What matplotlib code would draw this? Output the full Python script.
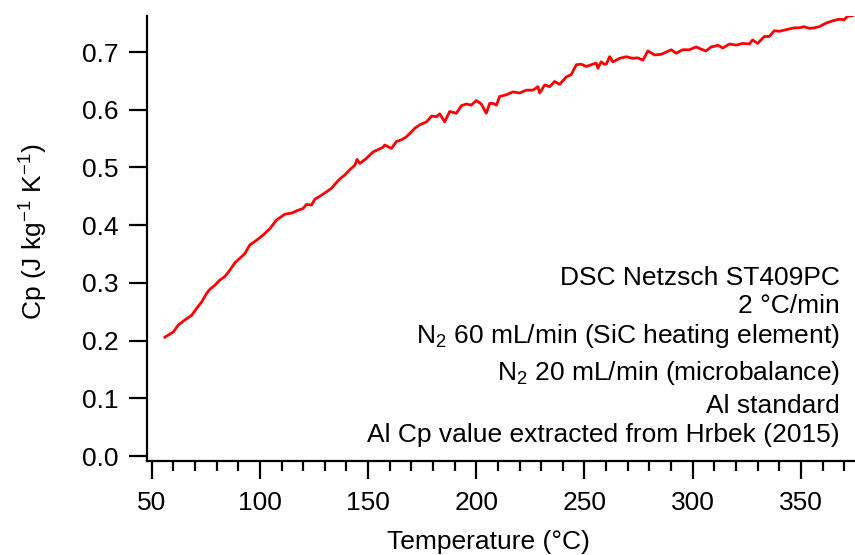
import matplotlib
matplotlib.use("Agg")
import matplotlib.pyplot as plt
from matplotlib.ticker import MultipleLocator

plt.rcParams['font.family'] = ['Liberation Sans', 'DejaVu Sans']
plt.rcParams['mathtext.default'] = 'regular'

# Cp curve
temperature = [56.1, 60.0, 62.3, 65.4, 68.5, 70.8, 73.1, 75.4, 76.9, 79.2,
               81.5, 83.8, 86.1, 88.5, 90.8, 93.1, 95.4, 98.5, 101.5, 104.6,
               107.7, 111.5, 114.6, 117.7, 120.0, 121.5, 123.9, 125.4, 128.5, 130.8,
               133.1, 135.4, 136.9, 139.2, 141.5, 143.9, 144.9, 146.2, 149.3, 152.3,
               154.6, 156.9, 157.7, 160.8, 163.1, 165.4, 167.7, 170.0, 171.6, 173.9,
               177.0, 179.3, 181.6, 183.1, 185.4, 187.7, 190.8, 193.1, 195.4, 197.7,
               200.0, 202.3, 204.6, 206.2, 207.7, 209.3, 210.8, 213.9, 216.9, 220.0,
               223.1, 226.2, 228.5, 229.3, 231.6, 233.9, 236.2, 238.5, 241.6, 243.9,
               246.2, 248.5, 250.8, 253.1, 255.4, 256.2, 257.7, 259.2, 260.1, 261.6,
               263.1, 266.2, 269.3, 272.3, 274.6, 277.0, 279.3, 282.4, 285.4, 287.8,
               290.1, 292.4, 295.4, 298.5, 301.6, 303.9, 306.2, 308.5, 310.1, 311.6,
               313.9, 317.0, 320.1, 323.1, 326.2, 327.7, 330.0, 333.1, 335.4, 337.7,
               340.0, 342.3, 344.6, 346.9, 349.2, 351.5, 353.9, 356.2, 358.5, 361.5,
               364.6, 367.7, 370.0, 371.5, 373.8]
cp = [0.206, 0.215, 0.227, 0.236, 0.244, 0.256, 0.267, 0.282, 0.289, 0.296,
      0.305, 0.311, 0.322, 0.335, 0.343, 0.351, 0.366, 0.374, 0.383, 0.394,
      0.409, 0.419, 0.421, 0.426, 0.429, 0.436, 0.435, 0.445, 0.452, 0.458,
      0.464, 0.474, 0.480, 0.487, 0.496, 0.504, 0.514, 0.507, 0.516, 0.527,
      0.531, 0.535, 0.539, 0.533, 0.545, 0.548, 0.553, 0.562, 0.568, 0.574,
      0.579, 0.589, 0.588, 0.593, 0.579, 0.597, 0.594, 0.607, 0.610, 0.608,
      0.616, 0.610, 0.594, 0.611, 0.611, 0.608, 0.623, 0.626, 0.631, 0.629,
      0.634, 0.634, 0.640, 0.629, 0.643, 0.640, 0.649, 0.644, 0.657, 0.661,
      0.678, 0.679, 0.675, 0.678, 0.681, 0.672, 0.683, 0.679, 0.679, 0.692,
      0.683, 0.689, 0.692, 0.689, 0.690, 0.686, 0.702, 0.695, 0.696, 0.700,
      0.704, 0.698, 0.704, 0.704, 0.709, 0.705, 0.702, 0.709, 0.710, 0.712,
      0.707, 0.714, 0.712, 0.715, 0.714, 0.721, 0.715, 0.727, 0.727, 0.737,
      0.736, 0.738, 0.740, 0.742, 0.742, 0.744, 0.741, 0.742, 0.744, 0.750,
      0.754, 0.757, 0.756, 0.762, 0.763]

notes = ["DSC Netzsch ST409PC",
         "2 °C/min",
         "N$_2$ 60 mL/min (SiC heating element)",
         "N$_2$ 20 mL/min (microbalance)",
         "Al standard",
         "Al Cp value extracted from Hrbek (2015)"]
note_baselines = [285, 313, 343, 380, 413, 442]  # pixel rows

W, H = 855, 555
fs = 19
fig = plt.figure(figsize=(W / 100, H / 100), dpi=100)
ax = fig.add_axes([146.7 / W, 1 - 460.7 / H, 1 - 146.7 / W, (460.7 - 15.7) / H])

ax.plot(temperature, cp, color='#ff0000', lw=2)

ax.set_xlim(47.7, 375)
ax.set_ylim(-0.008, 0.763)
ax.xaxis.set_major_locator(MultipleLocator(50))
ax.xaxis.set_minor_locator(MultipleLocator(10))
ax.yaxis.set_major_locator(MultipleLocator(0.1))
ax.yaxis.set_major_formatter(plt.FormatStrFormatter('%.1f'))

for s in ['top', 'right']:
    ax.spines[s].set_visible(False)
for s in ['left', 'bottom']:
    ax.spines[s].set_linewidth(1.6)

ax.tick_params(axis='both', which='major', direction='out', length=13, width=1.6,
               labelsize=fs, pad=7)
ax.tick_params(axis='x', which='major', pad=9)
ax.tick_params(axis='x', which='minor', direction='out', length=7, width=1.6)

ax.set_xlabel("Temperature (°C)", fontsize=fs)
ax.xaxis.set_label_coords(0.482, -0.155)
ax.set_ylabel("Cp (J kg$^{-1}$ K$^{-1}$)", fontsize=fs)
ax.yaxis.set_label_coords(-0.1365, 0.515)

for line, yb in zip(notes, note_baselines):
    fig.text(840 / W, 1 - yb / H, line, ha='right', va='baseline', fontsize=fs)

fig.savefig("out.png", dpi=100)
